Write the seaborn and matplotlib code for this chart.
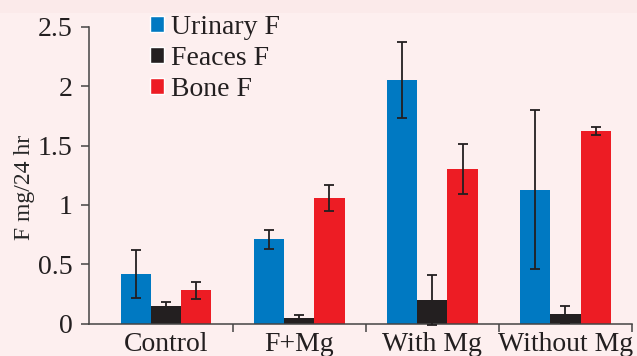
import matplotlib
matplotlib.use('Agg')
import matplotlib.pyplot as plt
from matplotlib.patches import Patch, Rectangle
import numpy as np
import pandas as pd
import seaborn as sns

# Data
groups = ['Control', 'F+Mg', 'With Mg', 'Without Mg']
series = ['Urinary F', 'Feaces F', 'Bone F']
urinary = [0.42, 0.71, 2.05, 1.13]
urinary_err = [0.20, 0.08, 0.32, 0.67]
faeces = [0.15, 0.05, 0.20, 0.08]
faeces_err = [0.03, 0.02, 0.21, 0.07]
bone = [0.28, 1.06, 1.30, 1.62]
bone_err = [0.07, 0.11, 0.21, 0.035]
y_ticks = [0, 0.5, 1, 1.5, 2, 2.5]
y_tick_labels = ['0', '0.5', '1', '1.5', '2', '2.5']

colors = ['#0079C2', '#231F20', '#ED1C24']
bg = '#FDEFEF'
ink = '#231F20'

df = pd.DataFrame({
    'group': groups * 3,
    'series': np.repeat(series, len(groups)),
    'value': urinary + faeces + bone,
})

sns.set_style('white')
plt.rcParams['font.family'] = ['Liberation Serif', 'DejaVu Serif']
plt.rcParams['text.color'] = ink

fig = plt.figure(figsize=(6.37, 3.56), dpi=100, facecolor=bg)
# slightly darker strip along the top edge
fig.patches.append(Rectangle((0, 1 - 13 / 356), 1, 13 / 356, transform=fig.transFigure,
                             facecolor='#FBEAEA', edgecolor='none', zorder=0))
ax = fig.add_axes([0.1397, 0.0907, 0.8524, 0.834])
ax.set_facecolor('none')

sns.barplot(data=df, x='group', y='value', hue='series', palette=colors,
            width=0.68, saturation=1, errorbar=None, legend=False, ax=ax,
            linewidth=0, edgecolor='none')

# error bars on top of each bar
for cont, errs in zip(ax.containers, [urinary_err, faeces_err, bone_err]):
    for bar, e in zip(cont, errs):
        x = bar.get_x() + bar.get_width() / 2
        ax.errorbar(x, bar.get_height(), yerr=e, fmt='none', ecolor=ink,
                    elinewidth=1.3, capsize=3.6, capthick=1.3, clip_on=False, zorder=5)

ax.set_xlim(-0.58, 3.5)
ax.set_ylim(0, 2.5)
ax.set_yticks(y_ticks)
ax.set_yticklabels(y_tick_labels)
ax.set_xticks(range(len(groups)))
ax.set_xticklabels(groups)
ax.set_xticks([0.5, 1.5, 2.5, 3.5], minor=True)
ax.tick_params(axis='x', which='major', length=0, pad=6, labelsize=20, colors=ink)
ax.tick_params(axis='x', which='minor', length=6, width=1.1, direction='out', color='#444444', bottom=True)
ax.tick_params(axis='y', length=6, width=1.1, direction='out', pad=6, labelsize=20, colors=ink, left=True)
ax.tick_params(axis='y', color='#444444')

for side in ['top', 'right']:
    ax.spines[side].set_visible(False)
for side in ['left', 'bottom']:
    ax.spines[side].set_color('#444444')
    ax.spines[side].set_linewidth(1.1)

ax.set_xlabel('')
ax.set_ylabel('F mg/24 hr', fontsize=17)
ax.yaxis.set_label_coords(-0.100, 0.46)

handles = [Patch(facecolor=c, label=s) for c, s in zip(colors, series)]
fig.legend(handles=handles, loc='upper left', bbox_to_anchor=(150 / 637, 1 - 15 / 356),
           frameon=False, fontsize=20, handlelength=0.5, handleheight=0.5,
           handletextpad=0.25, labelspacing=0.22, borderpad=0, borderaxespad=0)

fig.savefig('out.png', dpi=100, facecolor=bg)
